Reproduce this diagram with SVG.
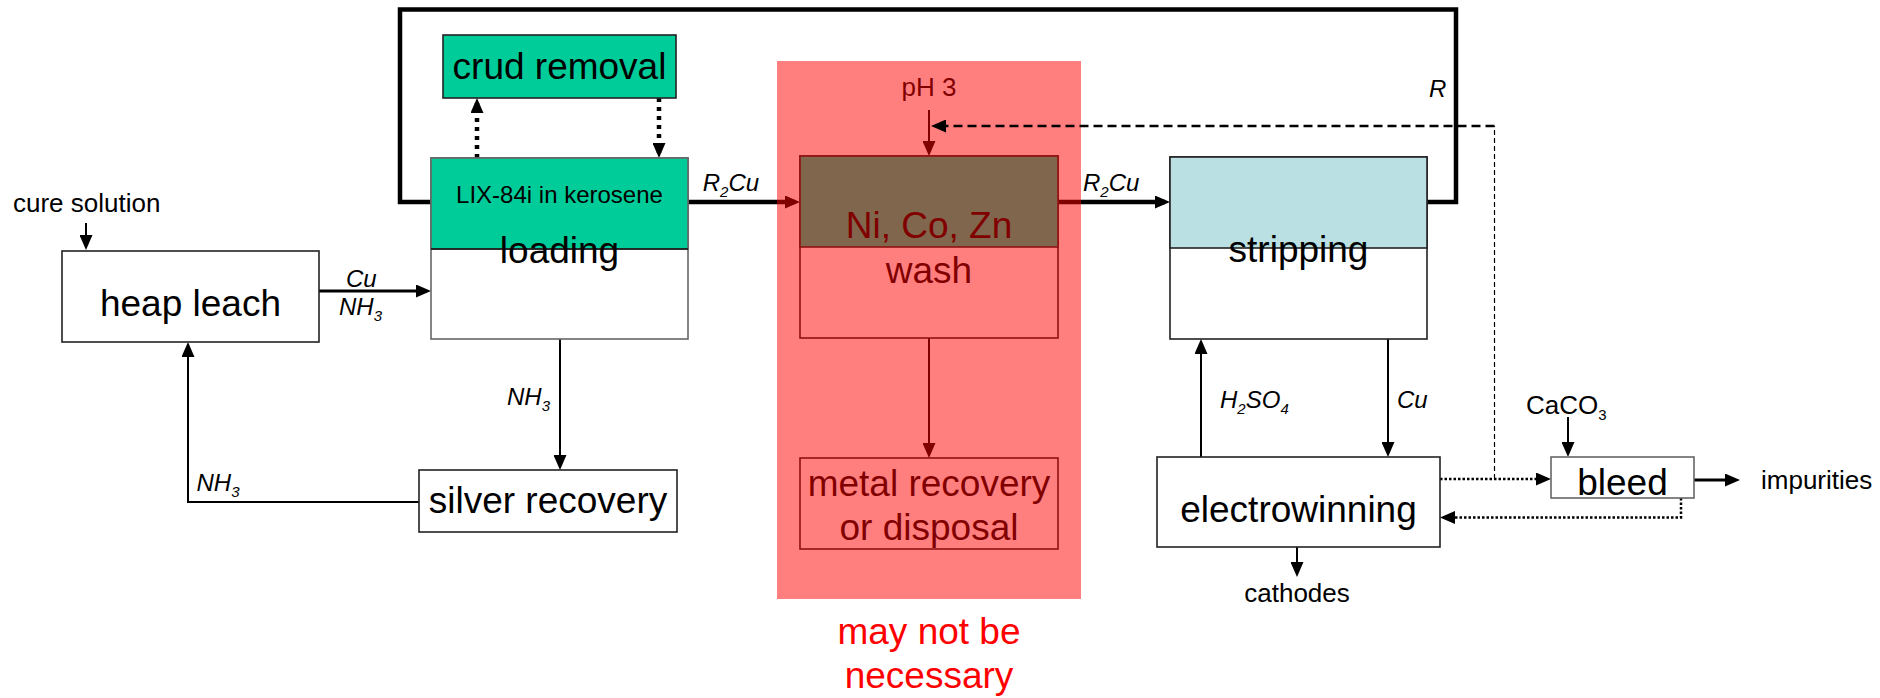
<svg xmlns="http://www.w3.org/2000/svg" width="1880" height="698" viewBox="0 0 1880 698">
<style>
text{font-family:"Liberation Sans",Arial,sans-serif;fill:#000}
.big{font-size:37px;text-anchor:middle}
.small{font-size:26px}
.lbl{font-size:24px;font-style:italic}
.sub{font-size:15px}
.box{fill:#fff;stroke:#222;stroke-width:1.6}
.teal{fill:#00CC99;stroke:#222;stroke-width:1.6}
.blue{fill:#BBE0E3;stroke:#222;stroke-width:1.6}
.ln{fill:none;stroke:#000;stroke-width:2}
.arr{marker-end:url(#ah)}
.thick{stroke-width:4.5}
.mid{stroke-width:3}
.dotb{stroke-width:4.5;stroke-dasharray:4 5}
.dot{stroke-width:2.5;stroke-dasharray:2.5 2}
.dash{stroke-width:2.5;stroke-dasharray:9 5}
.dashthin{stroke-width:1.2;stroke-dasharray:5 3}
</style>
<defs>
<marker id="ah" markerUnits="userSpaceOnUse" markerWidth="15" markerHeight="13" refX="10" refY="6.5" orient="auto"><path d="M0,0 L15,6.5 L0,13 z" fill="#000"/></marker>
</defs>

<g id="connectors">
<path class="ln thick" d="M431,202 H400 V9.5 H1456 V202 H1427"/>
<path class="ln arr" d="M86,223 V245"/>
<path class="ln mid arr" d="M319,291 H426"/>
<path class="ln thick arr" d="M688,202 H795"/>
<path class="ln thick arr" d="M1058,202 H1165"/>
<path class="ln arr" d="M929,110 V151"/>
<path class="ln arr" d="M560,339 V465"/>
<path class="ln arr" d="M419,502 H188 V347"/>
<path class="ln arr" d="M929,338 V453"/>
<path class="ln dotb arr" d="M477,158 V103"/>
<path class="ln dotb arr" d="M659,98 V153"/>
<path class="ln arr" d="M1201,457 V344"/>
<path class="ln arr" d="M1388,339 V452"/>
<path class="ln arr" d="M1297,547 V572"/>
<path class="ln arr" d="M1568,417 V452"/>
<path class="ln mid arr" d="M1694,480 H1735"/>
<path class="ln dot arr" d="M1440,479 H1546"/>
<path class="ln dot arr" d="M1681,498 V517.5 H1445"/>
<path class="ln dashthin" d="M1494.5,479 V126"/>
<text class="lbl" x="702.7" y="190.7">R<tspan class="sub" dy="6">2</tspan><tspan dy="-6">Cu</tspan></text>
<text class="lbl" x="1083" y="190.7">R<tspan class="sub" dy="6">2</tspan><tspan dy="-6">Cu</tspan></text>
<text class="lbl" x="346" y="287">Cu</text>
<text class="lbl" x="339" y="315">NH<tspan class="sub" dy="6">3</tspan></text>
<text class="lbl" x="507" y="405">NH<tspan class="sub" dy="6">3</tspan></text>
<text class="lbl" x="196.5" y="490.7">NH<tspan class="sub" dy="6">3</tspan></text>
<text class="lbl" x="1220" y="408">H<tspan class="sub" dy="6">2</tspan><tspan dy="-6">SO</tspan><tspan class="sub" dy="6">4</tspan></text>
<text class="lbl" x="1397" y="408">Cu</text>
<text class="lbl" x="1429" y="96.7">R</text>
<text class="small" x="929" y="95.7" text-anchor="middle">pH 3</text>
</g>

<g id="heap-leach">
<rect class="box" x="62" y="251" width="257" height="91"/>
<text class="big" x="190.5" y="316">heap leach</text>
</g>
<text id="cure-solution" class="small" x="13" y="212">cure solution</text>

<g id="crud-removal">
<rect class="teal" x="443" y="35" width="233" height="63"/>
<text class="big" x="559.5" y="79">crud removal</text>
</g>

<g id="loading">
<rect class="box" x="431" y="158" width="257" height="181" style="stroke:#666"/>
<rect class="teal" x="431" y="158" width="257" height="91" style="stroke:#666"/>
<line x1="431" y1="249" x2="688" y2="249" stroke="#111" stroke-width="1.6"/>
<text x="559.5" y="203" font-size="24" text-anchor="middle">LIX-84i in kerosene</text>
<text class="big" x="559.5" y="263.3">loading</text>
</g>

<g id="silver-recovery">
<rect class="box" x="419" y="470" width="258" height="62"/>
<text class="big" x="548" y="512.7">silver recovery</text>
</g>

<g id="wash">
<rect class="box" x="800" y="156" width="258" height="182"/>
<rect class="teal" x="800" y="156" width="258" height="91"/>
<text class="big" x="929" y="238.3">Ni, Co, Zn</text>
<text class="big" x="929" y="282.7">wash</text>
</g>

<g id="metal-recovery">
<rect class="box" x="800" y="458" width="258" height="91"/>
<text class="big" x="929" y="495.7">metal recovery</text>
<text class="big" x="929" y="540">or disposal</text>
</g>

<g id="optional-zone">
<rect x="777" y="61" width="304" height="538" fill="#FF0000" fill-opacity="0.5"/>
<text class="big" x="929" y="644" style="fill:#FF0000">may not be</text>
<text class="big" x="929" y="688" style="fill:#FF0000">necessary</text>
</g>

<g id="stripping">
<rect class="box" x="1170" y="157" width="257" height="182"/>
<rect class="blue" x="1170" y="157" width="257" height="91"/>
<text class="big" x="1298.5" y="261.7">stripping</text>
</g>

<g id="electrowinning">
<rect class="box" x="1157" y="457" width="283" height="90"/>
<text class="big" x="1298.5" y="521.7">electrowinning</text>
</g>
<text id="cathodes" class="small" x="1297" y="601.7" text-anchor="middle">cathodes</text>

<g id="bleed">
<rect class="box" x="1551" y="457" width="143" height="41" style="stroke:#666"/>
<text class="big" x="1622.5" y="495">bleed</text>
</g>
<text id="caco3" class="small" x="1526" y="414">CaCO<tspan class="sub" font-size="17" dy="6">3</tspan></text>
<text id="impurities" class="small" x="1761" y="489">impurities</text>

<g id="connectors-feedback">
<path class="ln dash arr" d="M1494.5,126 H936"/>
</g>
</svg>
